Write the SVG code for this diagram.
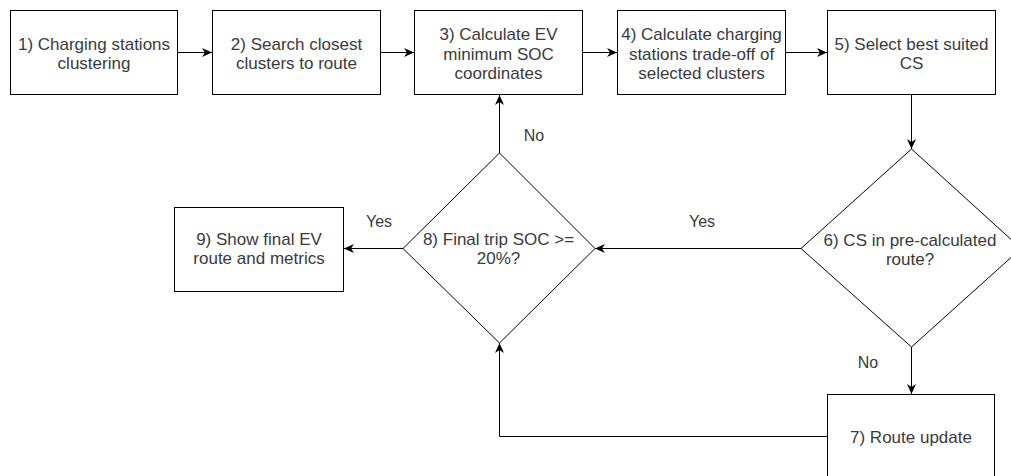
<svg xmlns="http://www.w3.org/2000/svg" width="1011" height="476" viewBox="0 0 1011 476">
<style>
.n{fill:#fff;stroke:#000;stroke-width:1}
.t{font-family:"Liberation Sans",Arial,sans-serif;font-size:17px;fill:#3a3a3a;text-anchor:middle}
.l{font-family:"Liberation Sans",Arial,sans-serif;font-size:16px;fill:#3a3a3a;text-anchor:middle}
.c{fill:none;stroke:#000;stroke-width:1}
</style>
<defs>
<marker id="a" markerUnits="userSpaceOnUse" viewBox="0 0 10 9" refX="10" refY="4.5" markerWidth="10" markerHeight="9" orient="auto">
<path d="M0,0 L10,4.5 L0,9 L3,4.5 Z" fill="#000"/>
</marker>
</defs>
<rect width="1011" height="476" fill="#fff"/>
<g id="connectors">
<path class="c" d="M177.5,52.5 H212" marker-end="url(#a)"/>
<path class="c" d="M380.5,52.5 H414" marker-end="url(#a)"/>
<path class="c" d="M582.5,52.5 H617" marker-end="url(#a)"/>
<path class="c" d="M785.5,52.5 H827" marker-end="url(#a)"/>
<path class="c" d="M911.5,94.5 V149" marker-end="url(#a)"/>
<path class="c" d="M801,248.5 H595" marker-end="url(#a)"/>
<path class="c" d="M911.5,347 V394" marker-end="url(#a)"/>
<path class="c" d="M827,436.5 H499.5 V343" marker-end="url(#a)"/>
<path class="c" d="M499.5,153 V95" marker-end="url(#a)"/>
<path class="c" d="M403,248.5 H344" marker-end="url(#a)"/>
<text class="l" x="534" y="141">No</text>
<text class="l" x="379" y="227">Yes</text>
<text class="l" x="702" y="227">Yes</text>
<text class="l" x="868" y="368">No</text>
</g>
<g id="n1">
<rect class="n" x="10.5" y="10.5" width="167" height="84"/>
<text class="t" x="94" y="50">1) Charging stations</text>
<text class="t" x="94" y="69">clustering</text>
</g>
<g id="n2">
<rect class="n" x="212.5" y="10.5" width="168" height="84"/>
<text class="t" x="296.5" y="50">2) Search closest</text>
<text class="t" x="296.5" y="69">clusters to route</text>
</g>
<g id="n3">
<rect class="n" x="414.5" y="10.5" width="168" height="84"/>
<text class="t" x="498.5" y="40">3) Calculate EV</text>
<text class="t" x="498.5" y="59.5">minimum SOC</text>
<text class="t" x="498.5" y="79">coordinates</text>
</g>
<g id="n4">
<rect class="n" x="617.5" y="10.5" width="168" height="84"/>
<text class="t" x="701.5" y="40">4) Calculate charging</text>
<text class="t" x="701.5" y="59.5">stations trade-off of</text>
<text class="t" x="701.5" y="79">selected clusters</text>
</g>
<g id="n5">
<rect class="n" x="827.5" y="10.5" width="168" height="84"/>
<text class="t" x="911.5" y="50">5) Select best suited</text>
<text class="t" x="911.5" y="69">CS</text>
</g>
<g id="n6">
<polygon class="n" points="911.5,149 1021,248.5 911.5,347 801,248.5"/>
<text class="t" x="910" y="246">6) CS in pre-calculated</text>
<text class="t" x="910" y="265">route?</text>
</g>
<g id="n7">
<rect class="n" x="827.5" y="394.5" width="167" height="85"/>
<text class="t" x="911" y="443">7) Route update</text>
</g>
<g id="n8">
<polygon class="n" points="499.5,153 595,248.5 499.5,343 403,248.5"/>
<text class="t" x="498.5" y="245">8) Final trip SOC &gt;=</text>
<text class="t" x="498.5" y="264">20%?</text>
</g>
<g id="n9">
<rect class="n" x="174.5" y="207.5" width="169" height="84"/>
<text class="t" x="259" y="245">9) Show final EV</text>
<text class="t" x="259" y="264">route and metrics</text>
</g>
</svg>
